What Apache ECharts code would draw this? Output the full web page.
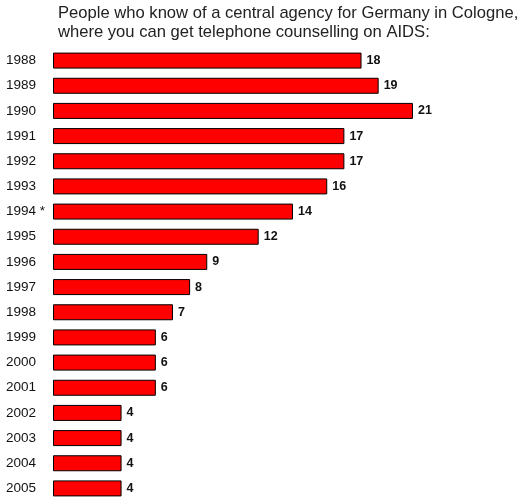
<!DOCTYPE html>
<html>
<head>
<meta charset="utf-8">
<script src="https://cdn.jsdelivr.net/npm/echarts@6/dist/echarts.min.js"></script>
<style>
  html, body { margin: 0; padding: 0; background: #fff; }
  #main { width: 525px; height: 501px; }
</style>
</head>
<body>
<div id="main"></div>
<script>
// years (y axis) and percentages
var years = ['1988', '1989', '1990', '1991', '1992', '1993', '1994 *', '1995', '1996',
  '1997', '1998', '1999', '2000', '2001', '2002', '2003', '2004', '2005'];
var values = [18, 19, 21, 17, 17, 16, 14, 12, 9, 8, 7, 6, 6, 6, 4, 4, 4, 4];
var titleLines = ['People who know of a central agency for Germany in Cologne,',
  'where you can get telephone counselling on AIDS:'];

var chart = echarts.init(document.getElementById('main'), null, { renderer: 'canvas' });

var option = {
  backgroundColor: '#fff',
  animation: false,
  title: {
    text: titleLines.join('\n'),
    left: 53,
    top: -1,
    textStyle: {
      fontFamily: 'Liberation Sans, Arial',
      fontSize: 16.6,
      fontWeight: 'normal',
      color: '#222',
      lineHeight: 19
    }
  },
  grid: {
    left: 53,
    top: 48,
    width: 428.5,
    height: 458
  },
  xAxis: {
    type: 'value',
    min: 0,
    max: 25,
    show: false
  },
  yAxis: {
    type: 'category',
    data: years,
    inverse: true,
    axisLine: { show: false },
    axisTick: { show: false },
    axisLabel: {
      align: 'left',
      margin: 47,
      fontFamily: 'Liberation Sans, Arial',
      fontSize: 13.5,
      color: '#111'
    }
  },
  series: [{
    type: 'bar',
    data: values,
    barWidth: 16,
    itemStyle: {
      color: '#ff0000',
      borderColor: '#000',
      borderWidth: 1
    },
    label: {
      show: true,
      position: 'right',
      distance: 5,
      fontFamily: 'Liberation Sans, Arial',
      fontSize: 12.5,
      fontWeight: 'bold',
      color: '#111'
    }
  }]
};

chart.setOption(option);
</script>
</body>
</html>
